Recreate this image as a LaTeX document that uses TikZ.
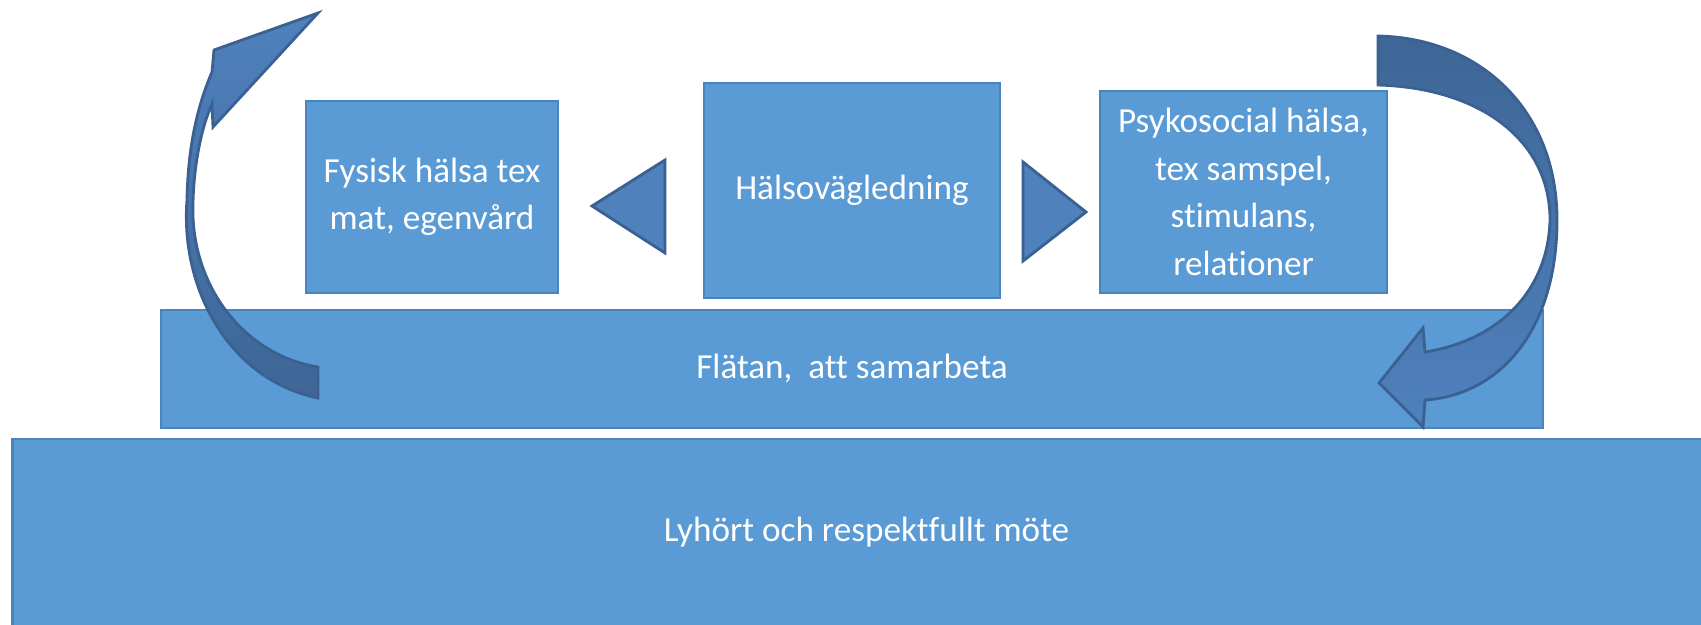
\documentclass[tikz,border=0pt]{standalone}
\usepackage{fontspec}
\setmainfont[Ligatures=NoCommon]{Carlito}
\definecolor{boxfill}{HTML}{5B9BD5}
\definecolor{boxline}{HTML}{4A83C0}
\definecolor{trifill}{HTML}{4F81BD}
\definecolor{triline}{HTML}{3A6192}
\definecolor{arrowdark}{HTML}{3E6696}
\definecolor{arrowlight}{HTML}{4F81BD}
\begin{document}
\begin{tikzpicture}[x=0.01cm, y=-0.01cm,
    box/.style={draw=boxline, fill=boxfill, line width=0.6pt, text=white, align=center,
      inner sep=0pt, font=\fontsize{10}{13.5}\selectfont},
    tri/.style={draw=triline, fill=trifill, line width=0.8pt, line join=miter},
    curvearrow/.style={draw=triline, line width=0.8pt, line join=miter}]
  \useasboundingbox (0,0) rectangle (1701,624);
  \node[box, minimum width=17.07cm, minimum height=1.87cm] (mote) at (866.5,532.5) {Lyhört och respektfullt möte};
  \node[box, minimum width=13.82cm, minimum height=1.18cm] (flatan) at (852,369) {Flätan,\ \ att samarbeta};
  \node[box, minimum width=2.52cm, minimum height=1.92cm] (fysisk) at (432,197) {Fysisk hälsa tex\\mat, egenvård};
  \node[box, minimum width=2.96cm, minimum height=2.15cm] (halsa) at (852,190.5) {Hälsovägledning};
  \node[box, minimum width=2.87cm, minimum height=2.02cm] (psyk) at (1243.5,192) {Psykosocial hälsa,\\tex samspel,\\stimulans,\\relationer};
  \draw[tri] (665,160) -- (592,206) -- (665,253) -- cycle;
  \draw[tri] (1023,162) -- (1086,212) -- (1023,261) -- cycle;
  \draw[curvearrow, top color=arrowlight, bottom color=arrowdark]
    (318,398) .. controls (230,380) and (180,290) .. (187,200)
    .. controls (188,140) and (200,100) .. (212,72)
    -- (214,50) -- (318,13) -- (213,127) -- (212,104)
    .. controls (200,130) and (192,175) .. (193,217)
    .. controls (196,290) and (245,355) .. (318,367) -- cycle;
  \draw[curvearrow, top color=arrowdark, bottom color=arrowlight]
    (1378,36) .. controls (1480,38) and (1557,110) .. (1557,220)
    .. controls (1557,330) and (1500,395) .. (1425,400)
    -- (1423,427) -- (1379,383) -- (1423,328) -- (1425,352)
    .. controls (1500,340) and (1548,290) .. (1550,220)
    .. controls (1550,140) and (1480,88) .. (1378,85) -- cycle;
\end{tikzpicture}
\end{document}
